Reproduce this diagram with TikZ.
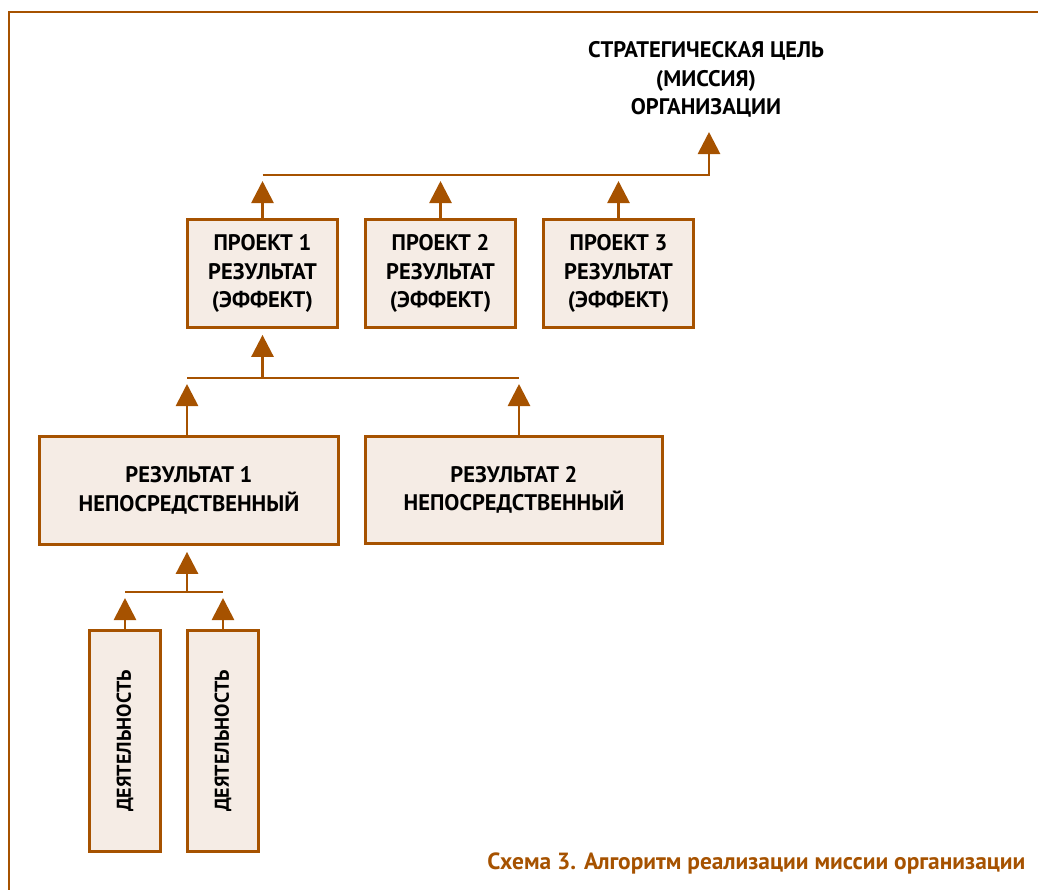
\documentclass[tikz,border=0pt]{standalone}
\usepackage{fontspec}
\usepackage{graphicx}
\setmainfont{PT Sans}
\usetikzlibrary{arrows.meta}
\definecolor{brn}{RGB}{166,82,0}
\definecolor{boxfill}{RGB}{245,236,229}
\begin{document}
\begin{tikzpicture}[x=1pt,y=-1pt,
  lbl/.style={font=\fontsize{22.5}{28.5}\selectfont\bfseries, align=center},
  box/.style={lbl, draw=brn, fill=boxfill, line width=2.8pt, inner sep=0pt},
  vtext/.style={font=\fontsize{20}{24}\selectfont\bfseries},
  link/.style={draw=brn, line width=2.8pt},
  uparrow/.style={link, -{Triangle[width=22pt,length=22pt]}, shorten >=6pt},
]
\useasboundingbox (0,0) rectangle (1038,889);

% frame: top and left rules
\draw[brn, line width=2.8pt] (9,900) -- (9,12) -- (1050,12);

% goal
\node[lbl] (goal) at (706,79.5) {СТРАТЕГИЧЕСКАЯ ЦЕЛЬ\\(МИССИЯ)\\ОРГАНИЗАЦИИ};
\coordinate (goalin) at (709,132);

% projects
\node[box, minimum width=150pt, minimum height=108pt] (p1) at (262.5,273.5) {ПРОЕКТ 1\\РЕЗУЛЬТАТ\\(ЭФФЕКТ)};
\node[box, minimum width=150pt, minimum height=108pt] (p2) at (440.5,273.5) {ПРОЕКТ 2\\РЕЗУЛЬТАТ\\(ЭФФЕКТ)};
\node[box, minimum width=150pt, minimum height=108pt] (p3) at (618.5,273.5) {ПРОЕКТ 3\\РЕЗУЛЬТАТ\\(ЭФФЕКТ)};

% direct results
\node[box, minimum width=299pt, minimum height=108pt] (r1) at (189,490.5) {РЕЗУЛЬТАТ 1\\НЕПОСРЕДСТВЕННЫЙ};
\node[box, minimum width=297pt, minimum height=107pt] (r2) at (514,490) {РЕЗУЛЬТАТ 2\\НЕПОСРЕДСТВЕННЫЙ};

% activities
\node[box, vtext, minimum width=71pt, minimum height=221pt] (a1) at (125,741) {\rotatebox{90}{ДЕЯТЕЛЬНОСТЬ}};
\node[box, vtext, minimum width=71pt, minimum height=221pt] (a2) at (223,741) {\rotatebox{90}{ДЕЯТЕЛЬНОСТЬ}};

% bus levels
\coordinate (topbus) at (0,175);
\coordinate (midbus) at (0,378);
\coordinate (lowbus) at (0,592);

% projects -> goal
\draw[uparrow, shorten >=0pt] (p1.north |- topbus) -| (goalin);
\foreach \b in {p1,p2,p3}
  \draw[uparrow] (\b.north) -- (\b.north |- topbus);

% results -> project 1
\draw[link] ([xshift=-2pt]r1.north |- midbus) -- ([xshift=5pt]r2.north |- midbus);
\draw[uparrow] (p1.south |- midbus) -- (p1.south);
\draw[uparrow] ([xshift=-2pt]r1.north) -- ([xshift=-2pt]r1.north |- midbus);
\draw[uparrow] ([xshift=5pt]r2.north) -- ([xshift=5pt]r2.north |- midbus);

% activities -> result 1
\draw[link] (a1.north |- lowbus) -- (a2.north |- lowbus);
\draw[uparrow] ([xshift=-2pt]r1.south |- lowbus) -- ([xshift=-2pt]r1.south);
\draw[uparrow] (a1.north) -- (a1.north |- lowbus);
\draw[uparrow] (a2.north) -- (a2.north |- lowbus);

% caption
\node[anchor=base east, text=brn, font=\fontsize{23.4}{26}\selectfont\bfseries] (cap) at (1029,869) {Схема 3. Алгоритм реализации миссии организации};
\end{tikzpicture}
\end{document}
